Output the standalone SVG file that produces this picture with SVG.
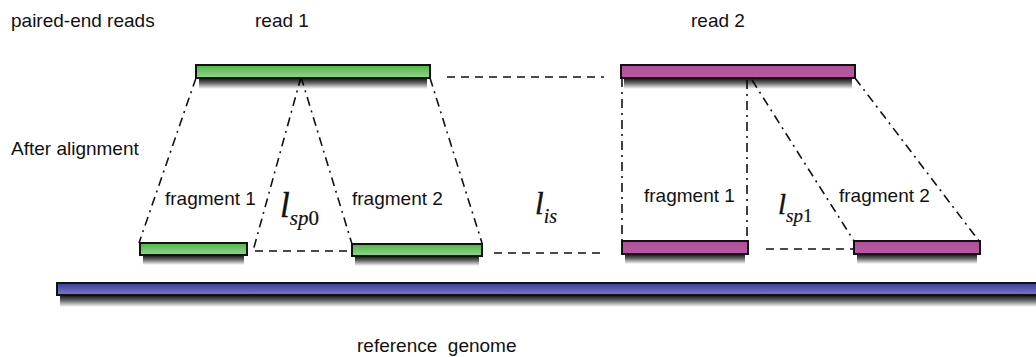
<svg xmlns="http://www.w3.org/2000/svg" width="1036" height="357" viewBox="0 0 1036 357">
<style>
.lbl{font-family:"Liberation Sans",Arial,sans-serif;font-size:19px;fill:#111}
.math{font-family:"Liberation Serif","Times New Roman",serif;font-style:italic;fill:#111;stroke:#111;stroke-width:0.4}
.sub{stroke-width:0.2}
.up{font-style:normal}
.bar{stroke:#111;stroke-width:2}
.shd{fill:url(#gS)}
.dd{fill:none;stroke:#111;stroke-width:1.6;stroke-dasharray:9,5,2,5}
.da{fill:none;stroke:#111;stroke-width:1.6;stroke-dasharray:8,6}
</style>
<defs>
<linearGradient id="gG" x1="0" y1="0" x2="0" y2="1">
<stop offset="0" stop-color="#4fb545"/>
<stop offset="1" stop-color="#93d68b"/>
</linearGradient>
<linearGradient id="gM" x1="0" y1="0" x2="0" y2="1">
<stop offset="0" stop-color="#b04f99"/>
<stop offset="1" stop-color="#b85aa3"/>
</linearGradient>
<linearGradient id="gB" x1="0" y1="0" x2="0" y2="1">
<stop offset="0" stop-color="#363b9c"/>
<stop offset="1" stop-color="#7f78c9"/>
</linearGradient>
<linearGradient id="gS" x1="0" y1="0" x2="0" y2="1">
<stop offset="0" stop-color="#000" stop-opacity="0.95"/>
<stop offset="0.45" stop-color="#000" stop-opacity="0.6"/>
<stop offset="1" stop-color="#000" stop-opacity="0"/>
</linearGradient>
</defs>
<rect width="1036" height="357" fill="#fff"/>

<g id="labels">
<text class="lbl" x="11" y="27">paired-end reads</text>
<text class="lbl" x="255" y="27">read 1</text>
<text class="lbl" x="691" y="27">read 2</text>
<text class="lbl" x="11" y="155">After alignment</text>
<text class="lbl" x="357" y="352" xml:space="preserve">reference  genome</text>
</g>

<g id="connectors">
<path class="dd" d="M196,78 L139,243"/>
<path class="dd" d="M301,77 L253,251"/>
<path class="dd" d="M301,77 L352,244"/>
<path class="dd" d="M430,78 L482,243"/>
<path class="dd" d="M622,78 L622,241"/>
<path class="dd" d="M747,80 L747,241"/>
<path class="dd" d="M752,80 L854,241"/>
<path class="dd" d="M855,78 L979,241"/>
<path class="da" d="M447,77 L604,77"/>
<path class="da" d="M255,251 L352,251"/>
<path class="da" d="M494,253 L604,253"/>
<path class="da" d="M766,249 L866,249"/>
</g>

<g id="genome"><rect class="shd" x="60" y="295" width="990" height="12"/><rect class="bar" x="57" y="283" width="990" height="12" fill="url(#gB)"/></g>
<g id="read1"><rect class="shd" x="199" y="78" width="228" height="11"/><rect class="bar" x="196" y="65" width="234" height="13" fill="url(#gG)"/></g>
<g id="read2"><rect class="shd" x="624" y="78" width="228" height="11"/><rect class="bar" x="621" y="65" width="234" height="13" fill="url(#gM)"/></g>
<g id="frag1-read1"><rect class="shd" x="143" y="255" width="101" height="10"/><rect class="bar" x="140" y="243" width="107" height="12" fill="url(#gG)"/>
<text class="lbl" x="165" y="205">fragment 1</text></g>
<g id="frag2-read1"><rect class="shd" x="355" y="256" width="124" height="10"/><rect class="bar" x="352" y="244" width="130" height="12" fill="url(#gG)"/>
<text class="lbl" x="352" y="205">fragment 2</text></g>
<g id="frag1-read2"><rect class="shd" x="625" y="254" width="120" height="10"/><rect class="bar" x="622" y="241" width="126" height="13" fill="url(#gM)"/>
<text class="lbl" x="644" y="202">fragment 1</text></g>
<g id="frag2-read2"><rect class="shd" x="857" y="254" width="120" height="10"/><rect class="bar" x="854" y="241" width="126" height="13" fill="url(#gM)"/>
<text class="lbl" x="839" y="202">fragment 2</text></g>

<g id="math">
<text class="math" x="280" y="217" font-size="35">l<tspan class="sub" font-size="21" dy="8">sp</tspan><tspan class="up sub" font-size="21">0</tspan></text>
<text class="math" x="535" y="214" font-size="31">l<tspan class="sub" font-size="20" dy="9">is</tspan></text>
<text class="math" x="778" y="214" font-size="29">l<tspan class="sub" font-size="19" dy="8">sp</tspan><tspan class="up sub" font-size="19">1</tspan></text>
</g>
</svg>
